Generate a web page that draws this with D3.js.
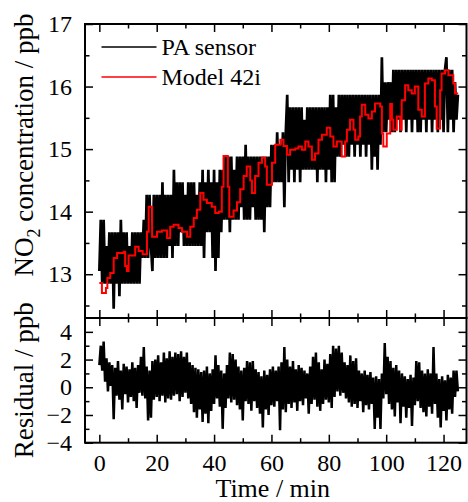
<!DOCTYPE html>
<html>
<head>
<meta charset="utf-8">
<script src="https://cdn.jsdelivr.net/npm/d3@7"></script>
<style>
  body { margin: 0; background: #fff; }
  svg text { font-family: "Liberation Serif", "Times New Roman", serif; fill: #000; }
  .tick line { stroke: #000; stroke-width: 1.5; }
</style>
</head>
<body>
<div id="container"></div>
<script>
// PA sensor, sampled every 0.5 min from t = 0
const paStep = 0.5;
const paValues = [
  13.05, 13.87, 12.85, 13.87, 12.85, 13.45, 12.85, 13.67, 12.85, 13.67,
  12.45, 13.67, 12.85, 13.67, 12.65, 13.87, 12.85, 13.67, 12.85, 13.67,
  12.85, 13.45, 12.85, 13.67, 12.85, 13.67, 12.85, 13.67, 12.85, 13.67,
  13.26, 13.87, 13.26, 14.27, 13.26, 14.27, 13.45, 13.05, 14.27, 13.26,
  14.27, 13.26, 14.27, 13.26, 14.47, 13.26, 14.27, 13.26, 14.27, 13.45,
  14.27, 13.26, 14.67, 13.45, 14.47, 13.45, 14.47, 13.67, 14.47, 13.45,
  14.27, 13.45, 14.47, 13.45, 14.47, 13.45, 14.47, 13.45, 14.27, 13.45,
  14.47, 13.45, 14.67, 13.26, 14.47, 13.67, 14.67, 13.67, 14.47, 13.26,
  14.67, 13.05, 14.47, 13.26, 14.67, 13.67, 14.67, 13.87, 14.88, 13.87,
  14.88, 13.67, 14.88, 13.87, 14.67, 13.87, 14.88, 13.87, 14.88, 14.07,
  14.88, 13.87, 15.07, 13.87, 14.88, 13.87, 14.88, 14.07, 14.88, 13.87,
  14.88, 13.87, 14.88, 13.87, 14.88, 13.67, 14.88, 14.07, 14.88, 14.07,
  15.07, 14.47, 15.07, 14.47, 15.27, 14.47, 15.07, 14.47, 15.27, 14.07,
  15.27, 15.87, 14.47, 15.67, 14.67, 15.67, 14.47, 15.67, 14.67, 15.67,
  14.47, 15.67, 14.67, 15.47, 14.67, 15.67, 14.67, 15.67, 14.67, 15.67,
  14.67, 15.67, 14.47, 15.67, 14.67, 15.67, 14.67, 15.67, 14.47, 15.67,
  14.67, 15.87, 14.47, 15.87, 14.47, 15.67, 14.88, 15.87, 14.88, 15.87,
  15.07, 15.87, 14.88, 15.87, 14.88, 15.87, 15.07, 15.87, 14.88, 15.87,
  15.07, 15.87, 14.88, 15.87, 15.07, 15.87, 14.88, 15.87, 15.07, 15.87,
  14.67, 15.87, 14.88, 15.87, 14.67, 15.87, 15.07, 16.47, 15.27, 16.07,
  15.27, 16.07, 15.47, 16.07, 15.27, 16.27, 15.27, 16.27, 15.47, 16.27,
  15.27, 16.27, 15.47, 16.27, 15.27, 16.27, 15.47, 16.27, 15.27, 16.27,
  15.47, 16.27, 15.27, 16.27, 15.27, 16.27, 15.47, 16.27, 15.27, 16.27,
  15.47, 16.27, 15.27, 16.27, 15.47, 16.27, 15.27, 16.27, 15.47, 16.27,
  15.27, 16.27, 16.47, 15.27, 16.27, 15.47, 16.27, 15.27, 16.07, 15.47,
  15.87
];

// Model 42i, step changes (time in min, value in ppb)
const modelTime = [
  0, 0.9, 2.3, 2.8, 3.8, 5.0, 6.2, 8.5, 9.0, 9.6, 10.2, 12.5, 13.7, 15.1,
  16.6, 17.2, 18.4, 20.1, 21.8, 23.6, 24.7, 25.9, 27.6, 28.8, 30.6, 31.7,
  32.9, 34.0, 35.2, 36.3, 37.5, 39.2, 40.4, 41.6, 42.7, 43.3, 44.8, 45.3,
  46.8, 48.0, 49.1, 50.3, 51.4, 52.6, 53.2, 54.3, 55.5, 56.7, 57.8, 58.4,
  60.2, 61.3, 63.1, 64.2, 65.4, 66.5, 68.3, 69.4, 70.6, 71.8, 72.9, 74.1,
  75.2, 76.4, 77.6, 79.3, 80.5, 81.6, 82.8, 84.5, 85.7, 86.3, 87.4, 88.6,
  89.2, 90.3, 90.9, 91.5, 92.7, 93.8, 95.0, 96.1, 97.9, 98.5, 99.0, 100.2,
  101.4, 102.0, 102.5, 103.7, 104.9, 105.4, 106.6, 107.7, 108.9, 110.0,
  111.2, 112.4, 113.5, 114.7, 115.9, 117.0, 117.6, 118.8, 119.3, 120.5,
  121.7, 123.4, 124.0, 125.1
];
const modelValue = [
  12.86, 12.70, 12.78, 12.94, 13.02, 13.26, 13.34, 13.36, 13.13, 13.05, 13.30, 13.44, 13.37, 13.32,
  13.68, 14.08, 13.60, 13.68, 13.70, 13.58, 13.76, 13.79, 13.74, 13.68, 13.60, 13.76,
  13.90, 14.03, 14.30, 14.19, 14.14, 14.08, 13.98, 14.00, 14.40, 14.89, 14.40, 13.92,
  14.02, 14.15, 14.36, 14.57, 14.72, 14.50, 14.30, 14.57, 14.78, 14.86, 14.72, 14.43,
  14.78, 15.07, 15.15, 15.05, 14.91, 14.99, 15.01, 15.04, 14.99, 15.12, 15.04, 14.83,
  14.93, 15.15, 15.23, 15.34, 15.20, 15.04, 15.12, 14.88, 15.12, 15.31, 15.47, 15.31,
  15.15, 15.20, 15.52, 15.71, 15.55, 15.49, 15.60, 15.73, 15.68, 15.25, 15.04, 15.25,
  15.72, 15.47, 15.31, 15.52, 15.31, 15.78, 16.02, 15.94, 15.89, 16.00, 15.63, 15.52,
  16.05, 16.13, 16.10, 15.68, 15.33, 15.94, 16.21, 16.26, 16.18, 16.05, 15.89, 15.89
];

// residual, sampled every 0.5 min from t = 0
const residualValues = [
  1.6, 3.0, 1.2, 3.3, 0.4, 2.1, -0.3, 1.8, 0.1, 1.6,
  -2.3, 1.4, -0.6, 1.9, -0.9, 1.2, -1.6, 1.7, -0.5, 1.5,
  -1.1, 1.3, -0.7, 1.8, -1.0, 1.4, -1.5, 1.6, -0.4, 2.2,
  -0.6, 2.9, -0.8, 1.5, -2.4, 1.2, -2.2, 1.9, -0.9, 2.0,
  -0.7, 2.3, -1.0, 1.8, -0.6, 2.5, -1.1, 2.1, -0.8, 2.6,
  -0.9, 2.2, -0.6, 2.5, -0.5, 2.4, -1.0, 2.6, -0.7, 2.2,
  -0.4, 2.5, -0.8, 1.8, -1.2, 1.6, -1.8, 1.4, -2.2, 1.3,
  -1.6, 1.1, -2.5, 1.2, -1.9, 1.5, -2.6, 1.0, -1.7, 1.3,
  -1.2, 2.3, -0.8, 1.6, -1.4, 1.2, -3.0, 1.0, -1.5, 1.6,
  -0.8, 2.5, -1.1, 2.4, -0.9, 2.0, -1.3, 1.5, -1.6, 1.2,
  -2.4, 1.4, -1.0, 1.9, -1.2, 1.8, -1.7, 1.9, -1.0, 1.3,
  -1.5, 1.1, -1.9, 0.8, -2.9, 1.2, -1.6, 0.9, -2.0, 1.3,
  -1.3, 1.5, -1.4, 1.2, -1.0, 1.5, -3.1, 1.8, -1.6, 2.9,
  -1.8, 2.0, -1.2, 1.5, -1.5, 1.9, -1.1, 1.3, -1.7, 1.6,
  -1.0, 1.4, -1.3, 1.2, -0.8, 1.0, -1.9, 1.5, -1.2, 2.2,
  -0.9, 2.5, -1.4, 1.8, -1.7, 1.3, -1.2, 2.0, -0.9, 1.7,
  -1.1, 2.4, -1.5, 3.0, -0.7, 2.8, -0.3, 3.0, -0.6, 2.5,
  -0.4, 1.8, -0.8, 1.6, -1.1, 2.3, -1.4, 1.9, -1.2, 2.1,
  -1.5, 1.2, -1.0, 1.0, -1.8, 1.2, -1.3, 0.9, -1.6, 1.1,
  -1.2, 0.7, -3.0, 0.8, -2.2, 0.6, -3.0, 1.0, -0.8, 3.2,
  -0.5, 2.2, -1.2, 1.9, -1.6, 1.4, -2.1, 1.6, -1.1, 1.2,
  -2.6, 1.0, -1.4, 0.8, -2.2, 0.6, -1.5, 0.9, -2.8, 0.7,
  -1.3, 1.9, -1.0, 1.8, -1.5, 1.2, -1.8, 1.0, -2.1, 1.3,
  -1.4, 1.0, -1.9, 2.9, -1.2, 1.0, -2.2, 0.6, -2.9, 0.8,
  -1.7, 0.5, -2.4, 0.9, -1.6, 0.7, -1.9, 1.2, -0.7, 1.2,
  -0.3
];

const xMajor = [0, 20, 40, 60, 80, 100, 120];
const xMinor = [10, 30, 50, 70, 90, 110];
const concMajor = [13, 14, 15, 16, 17];
const concMinor = [12.5, 13.5, 14.5, 15.5, 16.5];
const residMajor = [-4, -2, 0, 2, 4];
const residMinor = [-3, -1, 1, 3];
const legendLabels = ["PA sensor", "Model 42i"];
const legendColors = ["#000000", "#ff0000"];

const WIDTH = 468, HEIGHT = 502;
const LEFT = 85, RIGHT = 466.5;
const TOP1 = 24, MID = 318, BOTTOM2 = 442.7;
const MAJOR = 8, MINOR = 4.5;

let svg = d3.select("#container").append("svg")
  .attr("width", WIDTH)
  .attr("height", HEIGHT);

let x = d3.scaleLinear().domain([-5, 128]).range([LEFT, RIGHT]);
let yConc = d3.scaleLinear().domain([12.3, 17]).range([MID, TOP1]);
let yRes = d3.scaleLinear().domain([-4, 5]).range([BOTTOM2, MID]);

// data lines
let paLine = d3.line()
  .x((d, i) => x(i * paStep))
  .y(d => yConc(d));
svg.append("path")
  .datum(paValues)
  .attr("d", paLine)
  .attr("fill", "none")
  .attr("stroke", "#000")
  .attr("stroke-width", 2.7);

let modelLine = d3.line()
  .curve(d3.curveStepAfter)
  .x((d, i) => x(modelTime[i]))
  .y(d => yConc(d));
svg.append("path")
  .datum(modelValue)
  .attr("d", modelLine)
  .attr("fill", "none")
  .attr("stroke", "#ff0000")
  .attr("stroke-width", 2);

let resLine = d3.line()
  .x((d, i) => x(i * paStep))
  .y(d => yRes(d));
svg.append("path")
  .datum(residualValues)
  .attr("d", resLine)
  .attr("fill", "none")
  .attr("stroke", "#000")
  .attr("stroke-width", 2.5);

// axes (all ticks point inward)
function addAxis(axis, tx, ty, size, values, labelled) {
  let g = svg.append("g")
    .attr("transform", "translate(" + tx + "," + ty + ")")
    .call(axis.tickValues(values).tickSize(-size).tickSizeOuter(0)
      .tickFormat(labelled ? d3.format("d") : ""));
  g.select(".domain").remove();
  g.selectAll("text").style("font-size", "24px");
  return g;
}

// top panel
addAxis(d3.axisLeft(yConc).tickPadding(13), LEFT, 0, MAJOR, concMajor, true);
addAxis(d3.axisLeft(yConc), LEFT, 0, MINOR, concMinor, false);
addAxis(d3.axisRight(yConc), RIGHT, 0, MAJOR, concMajor, false);
addAxis(d3.axisRight(yConc), RIGHT, 0, MINOR, concMinor, false);
addAxis(d3.axisTop(x), 0, TOP1, MAJOR, xMajor, false);
addAxis(d3.axisTop(x), 0, TOP1, MINOR, xMinor, false);
addAxis(d3.axisBottom(x), 0, MID, MAJOR, xMajor, false);
addAxis(d3.axisBottom(x), 0, MID, MINOR, xMinor, false);

// bottom panel
addAxis(d3.axisLeft(yRes).tickPadding(13), LEFT, 0, MAJOR, residMajor, true);
addAxis(d3.axisLeft(yRes), LEFT, 0, MINOR, residMinor, false);
addAxis(d3.axisRight(yRes), RIGHT, 0, MAJOR, residMajor, false);
addAxis(d3.axisRight(yRes), RIGHT, 0, MINOR, residMinor, false);
addAxis(d3.axisTop(x), 0, MID, MAJOR, xMajor, false);
addAxis(d3.axisTop(x), 0, MID, MINOR, xMinor, false);
let xAxis = addAxis(d3.axisBottom(x), 0, BOTTOM2, MAJOR, xMajor, true);
xAxis.selectAll("text").attr("dy", null).attr("y", 28);
addAxis(d3.axisBottom(x), 0, BOTTOM2, MINOR, xMinor, false);

// frames
svg.append("rect")
  .attr("x", LEFT).attr("y", TOP1)
  .attr("width", RIGHT - LEFT).attr("height", MID - TOP1)
  .attr("fill", "none").attr("stroke", "#000").attr("stroke-width", 2);
svg.append("rect")
  .attr("x", LEFT).attr("y", MID)
  .attr("width", RIGHT - LEFT).attr("height", BOTTOM2 - MID)
  .attr("fill", "none").attr("stroke", "#000").attr("stroke-width", 2);

// axis titles
svg.append("text")
  .attr("x", (LEFT + RIGHT) / 2 - 3)
  .attr("y", 497)
  .attr("text-anchor", "middle")
  .style("font-size", "26px")
  .text("Time / min");

let yTitle = svg.append("text")
  .attr("transform", "translate(33," + 145 + ") rotate(-90)")
  .attr("text-anchor", "middle")
  .style("font-size", "27px");
yTitle.append("tspan").text("NO");
yTitle.append("tspan").attr("dy", 7).style("font-size", "18px").text("2");
yTitle.append("tspan").attr("dy", -7).text(" concentration / ppb");

svg.append("text")
  .attr("transform", "translate(33," + (MID + BOTTOM2) / 2 + ") rotate(-90)")
  .attr("text-anchor", "middle")
  .style("font-size", "27px")
  .text("Residual / ppb");

// legend
let legend = svg.append("g").attr("transform", "translate(101.5,47)");
legend.selectAll("line")
  .data(legendColors)
  .enter()
  .append("line")
  .attr("x1", 0).attr("x2", 55)
  .attr("y1", (d, i) => i * 30).attr("y2", (d, i) => i * 30)
  .attr("stroke", d => d)
  .attr("stroke-width", 1.5);
legend.selectAll("text")
  .data(legendLabels)
  .enter()
  .append("text")
  .attr("x", 60)
  .attr("y", (d, i) => i * 30 + 7.5)
  .style("font-size", "24px")
  .text(d => d);
</script>
</body>
</html>
